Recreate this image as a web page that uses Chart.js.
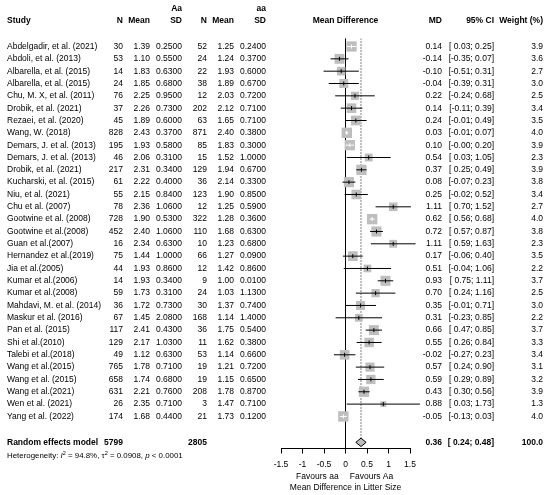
<!DOCTYPE html>
<html>
<head>
<meta charset="utf-8">
<script src="https://cdn.jsdelivr.net/npm/chart.js@4.4.1/dist/chart.umd.min.js"></script>
<style>
  body { margin: 0; background: #fff; }
  canvas { display: block; }
</style>
</head>
<body>
<canvas id="forest" width="550" height="495"></canvas>
<script>
// Studies (group Aa = carriers, group aa = non carriers)
var studies = [
    'Abdelgadir, et al. (2021)', 'Abdoli, et al. (2013)', 'Albarella, et al. (2015)',
    'Albarella, et al. (2015)', 'Chu, M. X, et al. (2011)', 'Drobik, et al. (2021)',
    'Rezaei, et al. (2020)', 'Wang, W. (2018)', 'Demars, J. et al. (2013)',
    'Demars, J. et al. (2013)', 'Drobik, et al. (2021)', 'Kucharski, et al. (2015)',
    'Niu, et al. (2021)', 'Chu et al. (2007)', 'Gootwine et al. (2008)',
    'Gootwine et al.(2008)', 'Guan et al.(2007)', 'Hernandez et al.(2019)',
    'Jia et al.(2005)', 'Kumar et al.(2006)', 'Kumar et al.(2008)',
    'Mahdavi, M. et al. (2014)', 'Maskur et al. (2016)', 'Pan et al. (2015)',
    'Shi et al.(2010)', 'Talebi et al.(2018)', 'Wang et al.(2015)',
    'Wang et al. (2015)', 'Wang et al.(2021)', 'Wen et al. (2021)', 'Yang et al. (2022)'
];
var nAa    = [30, 53, 14, 24, 76, 37, 45, 828, 195, 46, 217, 61, 55, 78, 728, 452, 16, 75, 44, 14, 59, 36, 67, 117, 129, 49, 765, 658, 631, 26, 174];
var meanAa = [1.39, 1.10, 1.83, 1.85, 2.25, 2.26, 1.89, 2.43, 1.93, 2.06, 2.31, 2.22, 2.15, 2.36, 1.90, 2.40, 2.34, 1.44, 1.93, 1.93, 1.73, 1.72, 1.45, 2.41, 2.17, 1.12, 1.78, 1.74, 2.21, 2.35, 1.68];
var sdAa   = [0.25, 0.55, 0.63, 0.68, 0.95, 0.73, 0.60, 0.37, 0.58, 0.31, 0.34, 0.40, 0.84, 1.06, 0.53, 1.06, 0.63, 1.00, 0.86, 0.34, 0.31, 0.73, 2.08, 0.43, 1.03, 0.63, 0.71, 0.68, 0.76, 0.71, 0.44];
var naa    = [52, 24, 22, 38, 12, 202, 63, 871, 85, 15, 129, 36, 123, 12, 322, 110, 10, 66, 12, 9, 24, 30, 168, 36, 11, 53, 19, 19, 208, 3, 21];
var meanaa = [1.25, 1.24, 1.93, 1.89, 2.03, 2.12, 1.65, 2.40, 1.83, 1.52, 1.94, 2.14, 1.90, 1.25, 1.28, 1.68, 1.23, 1.27, 1.42, 1.00, 1.03, 1.37, 1.14, 1.75, 1.62, 1.14, 1.21, 1.15, 1.78, 1.47, 1.73];
var sdaa   = [0.24, 0.37, 0.60, 0.67, 0.72, 0.71, 0.71, 0.38, 0.30, 1.00, 0.67, 0.33, 0.85, 0.59, 0.36, 0.63, 0.68, 0.09, 0.86, 0.01, 1.13, 0.74, 1.40, 0.54, 0.38, 0.66, 0.72, 0.65, 0.87, 0.71, 0.12];
var md     = [0.14, -0.14, -0.10, -0.04, 0.22, 0.14, 0.24, 0.03, 0.10, 0.54, 0.37, 0.08, 0.25, 1.11, 0.62, 0.72, 1.11, 0.17, 0.51, 0.93, 0.70, 0.35, 0.31, 0.66, 0.55, -0.02, 0.57, 0.59, 0.43, 0.88, -0.05];
var ciLow  = [0.03, -0.35, -0.51, -0.39, -0.24, -0.11, -0.01, -0.01, -0.00, 0.03, 0.25, -0.07, -0.02, 0.70, 0.56, 0.57, 0.59, -0.06, -0.04, 0.75, 0.24, -0.01, -0.23, 0.47, 0.26, -0.27, 0.24, 0.29, 0.30, 0.03, -0.13];
var ciHigh = [0.25, 0.07, 0.31, 0.31, 0.68, 0.39, 0.49, 0.07, 0.20, 1.05, 0.49, 0.23, 0.52, 1.52, 0.68, 0.87, 1.63, 0.40, 1.06, 1.11, 1.16, 0.71, 0.85, 0.85, 0.84, 0.23, 0.90, 0.89, 0.56, 1.73, 0.03];
var weight = [3.9, 3.6, 2.7, 3.0, 2.5, 3.4, 3.5, 4.0, 3.9, 2.3, 3.9, 3.8, 3.4, 2.7, 4.0, 3.8, 2.3, 3.5, 2.2, 3.7, 2.5, 3.0, 2.2, 3.7, 3.3, 3.4, 3.1, 3.2, 3.9, 1.3, 4.0];

// Pooled result
var totalAa = 5799;
var totalaa = 2805;
var pooledMd = 0.36;
var pooledLow = 0.24;
var pooledHigh = 0.48;
var pooledWeight = 100.0;
var hetI2 = '94.8%';
var hetTau2 = '0.0908';
var hetP = '0.0001';

var xTicks = [-1.5, -1, -0.5, 0, 0.5, 1, 1.5];


// Layout (rows are y values of the y scale)
var FONT = '"Liberation Sans", Arial, sans-serif';
var SIZE = 8.5;
var pooledRow = 32.1;
var hetRow = 33.2;
var headRow1 = -3.1;
var headRow2 = -2.1;
var yTop = -0.65;
var yBottom = 32.6;
var diamondHalf = 0.34;
var GREY = '#bebebe';

// right edges of the text columns
var COL = { study: 7, n1: 123, m1: 150, sd1: 182, n2: 207, m2: 234, sd2: 266, md: 442, ci: 494, w: 543 };


function boxSide(w) {
    return 5.2 * Math.sqrt(w);
}

// when the CI is narrower than the box it is drawn in white
function ciInBox(chart, i) {
    var x = chart.scales.x;
    return x.getPixelForValue(ciHigh[i]) - x.getPixelForValue(ciLow[i]) < boxSide(weight[i]);
}

function fmtLow(v) {
    if (v < 0 || Object.is(v, -0)) return '-' + Math.abs(v).toFixed(2);
    return ' ' + v.toFixed(2);
}

function fmtCI(lo, hi) {
    return '[' + fmtLow(lo) + '; ' + hi.toFixed(2) + ']';
}


var ciPoints = [];
var boxPoints = [];
for (let i = 0; i < studies.length; i++) {
    ciPoints.push({x: ciLow[i], y: i}, {x: ciHigh[i], y: i}, {x: null, y: null});
    boxPoints.push({x: md[i], y: i});
}


// All the texts of the table
var tablePlugin = {
    id: 'tabla',
    afterDraw: function(chart) {
        var ctx = chart.ctx;
        var y = chart.scales.y;
        var x = chart.scales.x;
        var normal = SIZE + 'px ' + FONT;
        var bold = 'bold ' + SIZE + 'px ' + FONT;

        function put(t, px, row, align, font) {
            ctx.font = font || normal;
            ctx.textAlign = align || 'right';
            ctx.fillText(t, px, y.getPixelForValue(row));
        }

        ctx.save();
        ctx.fillStyle = '#000';
        ctx.textBaseline = 'middle';

        // headers
        put('Aa', COL.sd1, headRow1, 'right', bold);
        put('aa', COL.sd2, headRow1, 'right', bold);
        put('Study', COL.study, headRow2, 'left', bold);
        put('N', COL.n1, headRow2, 'right', bold);
        put('Mean', COL.m1, headRow2, 'right', bold);
        put('SD', COL.sd1, headRow2, 'right', bold);
        put('N', COL.n2, headRow2, 'right', bold);
        put('Mean', COL.m2, headRow2, 'right', bold);
        put('SD', COL.sd2, headRow2, 'right', bold);
        put('Mean Difference', (x.left + x.right) / 2, headRow2, 'center', bold);
        put('MD', COL.md, headRow2, 'right', bold);
        put('95% CI', COL.ci, headRow2, 'right', bold);
        put('Weight (%)', COL.w, headRow2, 'right', bold);

        // one line per study
        for (let i = 0; i < studies.length; i++) {
            put(studies[i], COL.study, i, 'left');
            put(String(nAa[i]), COL.n1, i);
            put(meanAa[i].toFixed(2), COL.m1, i);
            put(sdAa[i].toFixed(4), COL.sd1, i);
            put(String(naa[i]), COL.n2, i);
            put(meanaa[i].toFixed(2), COL.m2, i);
            put(sdaa[i].toFixed(4), COL.sd2, i);
            put(md[i].toFixed(2), COL.md, i);
            put(fmtCI(ciLow[i], ciHigh[i]), COL.ci, i);
            put(weight[i].toFixed(1), COL.w, i);
        }

        // pooled model
        put('Random effects model', COL.study, pooledRow, 'left', bold);
        put(String(totalAa), COL.n1, pooledRow, 'right', bold);
        put(String(totalaa), COL.n2, pooledRow, 'right', bold);
        put(pooledMd.toFixed(2), COL.md, pooledRow, 'right', bold);
        put(fmtCI(pooledLow, pooledHigh), COL.ci, pooledRow, 'right', bold);
        put(pooledWeight.toFixed(1), COL.w, pooledRow, 'right', bold);

        // heterogeneity line, with italics and superscripts
        var hs = 7.9;
        var hn = hs + 'px ' + FONT;
        var hi = 'italic ' + hs + 'px ' + FONT;
        var hsup = (hs * 0.7) + 'px ' + FONT;
        var parts = [
            {t: 'Heterogeneity: ', f: hn}, {t: 'I', f: hi}, {t: '2', f: hsup, dy: -2.8},
            {t: ' = ' + hetI2 + ', \u03c4', f: hn}, {t: '2', f: hsup, dy: -2.8},
            {t: ' = ' + hetTau2 + ', ', f: hn}, {t: 'p', f: hi}, {t: ' < ' + hetP, f: hn}
        ];
        var px = COL.study;
        var py = y.getPixelForValue(hetRow);
        ctx.textAlign = 'left';
        parts.forEach(function(p) {
            ctx.font = p.f;
            ctx.fillText(p.t, px, py + (p.dy || 0));
            px += ctx.measureText(p.t).width;
        });

        // axis labels
        var base = chart.chartArea.bottom;
        ctx.font = normal;
        ctx.textAlign = 'right';
        ctx.fillText('Favours aa', x.getPixelForValue(-0.16), base + 28);
        ctx.textAlign = 'left';
        ctx.fillText('Favours Aa', x.getPixelForValue(0.1), base + 28);
        ctx.textAlign = 'center';
        ctx.fillText('Mean Difference in Litter Size', x.getPixelForValue(0), base + 39);

        ctx.restore();
    }
};


var chart = new Chart(document.getElementById('forest'), {
    type: 'scatter',
    data: {
        datasets: [
            {
                // small tick at each estimate
                data: boxPoints,
                pointStyle: 'line',
                pointRotation: 90,
                pointRadius: 2,
                pointBorderWidth: 1,
                pointBorderColor: function(c) {
                    return ciInBox(c.chart, c.dataIndex) ? '#fff' : '#000';
                },
                clip: false
            },
            {
                // confidence intervals
                data: ciPoints,
                showLine: true,
                pointRadius: 0,
                borderWidth: 1,
                borderColor: '#000',
                segment: {
                    borderColor: function(c) {
                        return ciInBox(c.chart, Math.floor(c.p0DataIndex / 3)) ? '#fff' : '#000';
                    }
                },
                clip: false
            },
            {
                // weight boxes
                data: boxPoints,
                pointStyle: 'rect',
                pointRadius: weight.map(function(w) { return boxSide(w) / Math.SQRT2; }),
                pointBackgroundColor: GREY,
                pointBorderWidth: 0,
                clip: false
            },
            {
                // pooled diamond
                data: [
                    {x: pooledLow, y: pooledRow},
                    {x: pooledMd, y: pooledRow - diamondHalf},
                    {x: pooledHigh, y: pooledRow},
                    {x: pooledMd, y: pooledRow + diamondHalf},
                    {x: pooledLow, y: pooledRow}
                ],
                showLine: true,
                fill: 'shape',
                backgroundColor: GREY,
                borderColor: '#000',
                borderWidth: 1,
                pointRadius: 0,
                clip: false
            },
            {
                // no effect line
                data: [{x: 0, y: yTop}, {x: 0, y: yBottom}],
                showLine: true,
                borderColor: '#000',
                borderWidth: 1,
                pointRadius: 0
            },
            {
                // pooled estimate line
                data: [{x: pooledMd, y: yTop}, {x: pooledMd, y: pooledRow - diamondHalf}],
                showLine: true,
                borderColor: '#000',
                borderWidth: 1,
                borderDash: [1, 2],
                pointRadius: 0
            }
        ]
    },
    options: {
        responsive: false,
        animation: false,
        events: [],
        layout: { padding: { left: 281, right: 140, top: 38.5, bottom: 0 } },
        plugins: {
            legend: { display: false },
            tooltip: { enabled: false }
        },
        scales: {
            x: {
                type: 'linear',
                min: -1.5,
                max: 1.5,
                afterBuildTicks: function(axis) {
                    axis.ticks = xTicks.map(function(v) { return {value: v}; });
                },
                afterFit: function(axis) {
                    axis.height = 46.5;
                },
                grid: { display: true, drawOnChartArea: false, drawTicks: true, tickLength: 5, color: '#000', lineWidth: 1 },
                border: { display: true, color: '#000', width: 1 },
                ticks: {
                    color: '#000',
                    padding: 6,
                    maxRotation: 0,
                    autoSkip: false,
                    font: { family: FONT, size: SIZE },
                    callback: function(v) { return String(v); }
                }
            },
            y: {
                type: 'linear',
                reverse: true,
                min: yTop,
                max: yBottom,
                display: false
            }
        }
    },
    plugins: [tablePlugin]
});
</script>
</body>
</html>
